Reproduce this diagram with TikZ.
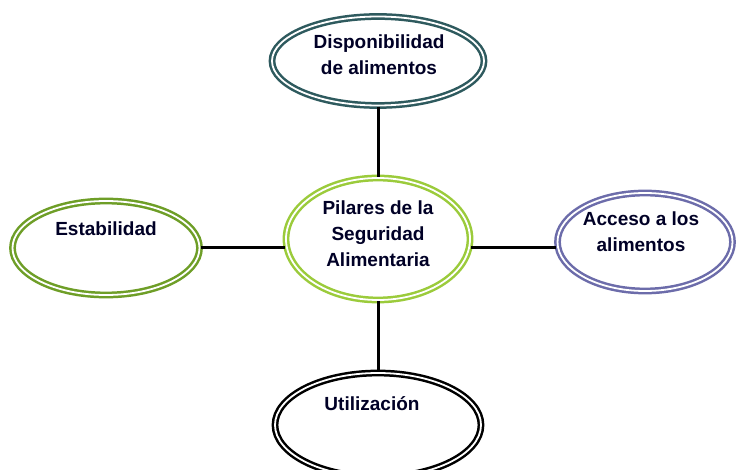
\documentclass[tikz,border=0pt]{standalone}
\usepackage{fontspec}
\setmainfont{Liberation Sans}
\usetikzlibrary{shapes.geometric}
\definecolor{cteal}{HTML}{2E5A5E}
\definecolor{clime}{HTML}{9BCB3B}
\definecolor{cgreen}{HTML}{6E9E27}
\definecolor{cpurple}{HTML}{6C6CAA}
\tikzset{
  pillar/.style={ellipse, draw=#1, double=white, line width=2.5pt, double distance=1.8pt, inner sep=0pt},
  lbl/.style={font=\fontsize{19}{26}\selectfont\bfseries, text=black!85!blue, align=center, inner sep=0pt},
  link/.style={line width=3pt, black}
}
\begin{document}
\begin{tikzpicture}[x=1pt,y=-1pt]
\useasboundingbox (0,0) rectangle (736,470);
\fill[white] (0,0) rectangle (736,470);
% ellipses
\node[pillar=cteal, minimum width=212pt, minimum height=89pt] (top) at (378,61) {};
\node[pillar=clime, minimum width=184pt, minimum height=122pt] (mid) at (378,239) {};
\node[pillar=cgreen, minimum width=187pt, minimum height=94pt] (left) at (106,248) {};
\node[pillar=cpurple, minimum width=175pt, minimum height=98pt] (right) at (645,242) {};
\node[pillar=black, minimum width=206pt, minimum height=104pt] (bot) at (378,425) {};
% connectors
\draw[link] (top.south) -- (mid.north);
\draw[link] (mid.south) -- (bot.north);
\draw[link] (left.east) -- (left.east -| mid.west);
\draw[link] (mid.east |- left.east) -- (right.west |- left.east);
% labels
\node[lbl] (ttop) at (379,55) {Disponibilidad\\de alimentos};
\node[lbl] (tmid) at (378,234) {Pilares de la\\Seguridad\\Alimentaria};
\node[lbl] (tleft) at (106,229) {Estabilidad};
\node[lbl] (tright) at (641,232) {Acceso a los\\alimentos};
\node[lbl] (tbot) at (372,404) {Utilización};
\end{tikzpicture}
\end{document}
